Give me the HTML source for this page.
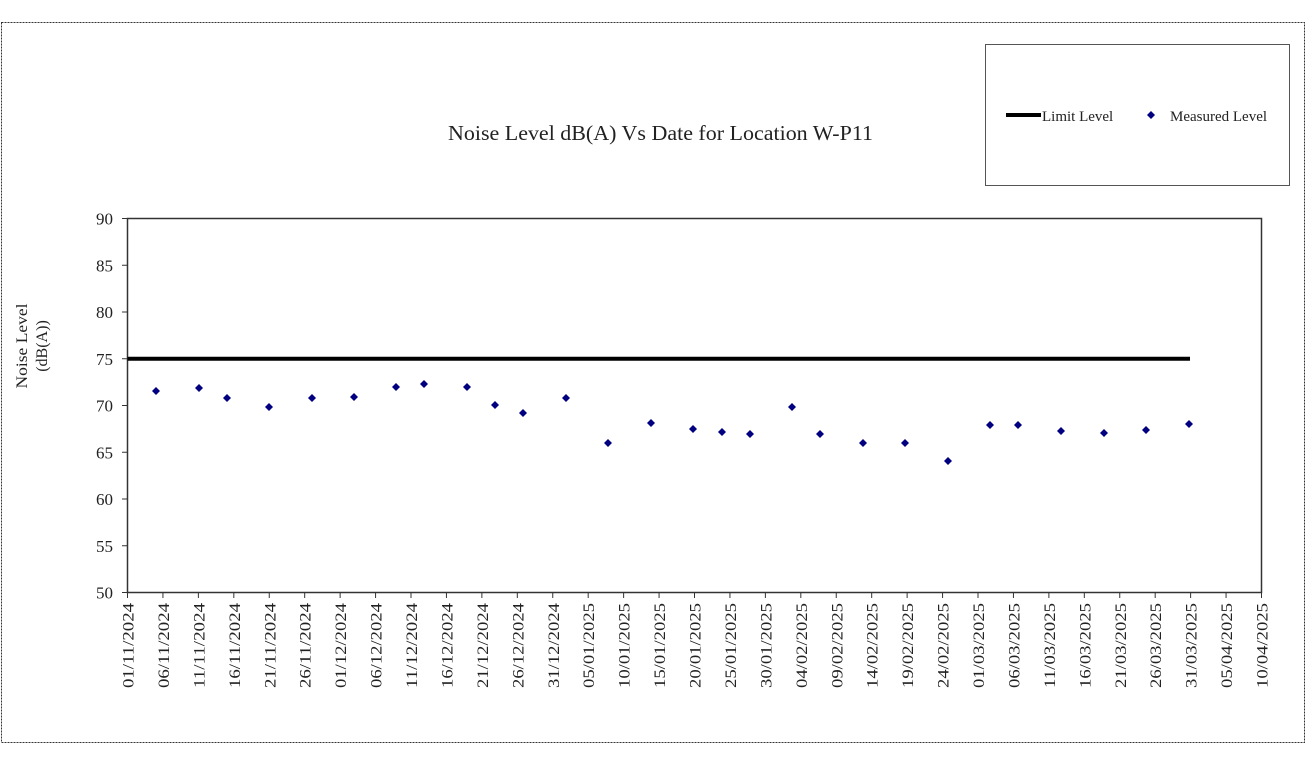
<!DOCTYPE html>
<html><head><meta charset="utf-8"><style>
html,body{margin:0;padding:0;background:#fff;}
svg{display:block;font-family:"Liberation Serif",serif;}
</style></head><body>
<svg id="s" width="1307" height="768" viewBox="0 0 1307 768" xmlns="http://www.w3.org/2000/svg">
<rect x="1.5" y="22.5" width="1303" height="720" fill="none" stroke="#333" stroke-width="1" stroke-dasharray="2,1"/>
<rect x="985.5" y="44.5" width="304" height="141" fill="#fff" stroke="#555" stroke-width="1"/>
<line x1="1006" y1="115" x2="1041" y2="115" stroke="#000" stroke-width="4"/>
<text x="1042" y="121" font-size="15" fill="#222">Limit Level</text>
<path d="M1151 111 L1155 115 L1151 119 L1147 115 Z" fill="#000080"/>
<text x="1170" y="121" font-size="15" fill="#222">Measured Level</text>
<text x="448" y="140" font-size="21" textLength="425" lengthAdjust="spacingAndGlyphs" fill="#222">Noise Level dB(A) Vs Date for Location W-P11</text>
<text transform="translate(27,346) rotate(-90)" font-size="16" text-anchor="middle" textLength="85" lengthAdjust="spacingAndGlyphs" fill="#222">Noise Level</text>
<text transform="translate(47,346) rotate(-90)" font-size="16" text-anchor="middle" fill="#222">(dB(A))</text>
<rect x="127.5" y="218.5" width="1134" height="374" fill="none" stroke="#333" stroke-width="1.5"/>
<g id="g"></g>
</svg>
<script>
var g=document.getElementById('g'),h='';
var x0=127.5,x1=1261.5,y0=592.5,y1=218.5;
for(var v=50;v<=90;v+=5){var y=y0-(v-50)*(y0-y1)/40;
h+='<line x1="122" y1="'+y+'" x2="127.5" y2="'+y+'" stroke="#333"/>';
h+='<text x="113" y="'+(y+6)+'" font-size="17" text-anchor="end" fill="#222">'+v+'</text>';}
for(var i=0;i<=32;i++){var x=x0+i*5*(x1-x0)/160;
var dt=new Date(2024,10,1+i*5);
var s=('0'+dt.getDate()).slice(-2)+'/'+('0'+(dt.getMonth()+1)).slice(-2)+'/'+dt.getFullYear();
h+='<line x1="'+x+'" y1="592.5" x2="'+x+'" y2="598" stroke="#333"/>';
h+='<text transform="translate('+(x+6)+',603) rotate(-90)" font-size="16" text-anchor="end" textLength="85" lengthAdjust="spacingAndGlyphs" fill="#222">'+s+'</text>';}
var yl=y0-25*(y0-y1)/40;
h+='<line x1="127.5" y1="'+yl+'" x2="1190" y2="'+yl+'" stroke="#000" stroke-width="4"/>';
var p=[[156,391],[199,388],[227,398],[269,407],[312,398],[354,397],[396,387],[424,384],[467,387],[495,405],[523,413],[566,398],[608,443],[651,423],[693,429],[722,432],[750,434],[792,407],[820,434],[863,443],[905,443],[948,461],[990,425],[1018,425],[1061,431],[1104,433],[1146,430],[1189,424]];
p.forEach(function(q){h+='<path d="M'+q[0]+' '+(q[1]-4)+' L'+(q[0]+4)+' '+q[1]+' L'+q[0]+' '+(q[1]+4)+' L'+(q[0]-4)+' '+q[1]+' Z" fill="#000080"/>';});
g.innerHTML=h;
</script>
</body></html>
